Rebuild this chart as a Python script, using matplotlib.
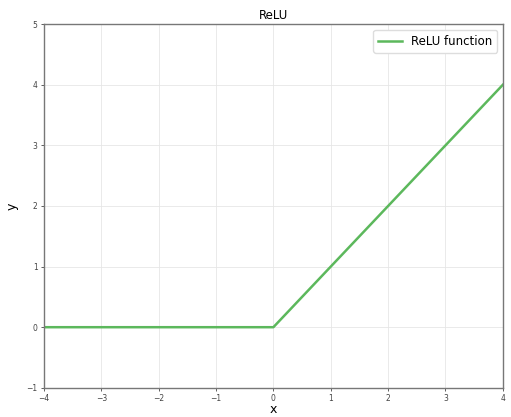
import numpy as np
import matplotlib
matplotlib.use('Agg')
import matplotlib.pyplot as plt

# ReLU breakpoints
x_vals = [-4, 0, 4]
y_vals = [0, 0, 4]

fig = plt.figure(figsize=(5.11, 4.17), dpi=100)
ax = fig.add_axes([0.086, 0.070, 0.898, 0.872])

ax.plot(x_vals, y_vals, color='#5cb85c', linewidth=1.8, label='ReLU function')

ax.set_xlim(-4, 4)
ax.set_ylim(-1, 5)
ax.set_xticks(np.arange(-4, 5, 1))
ax.set_yticks(np.arange(-1, 6, 1))
ax.tick_params(labelsize=5.5, length=2.5, width=0.6, pad=2, colors='#444444')
ax.grid(True, color='#e6e6e6', linewidth=0.6)

for spine in ax.spines.values():
    spine.set_color('#777777')
    spine.set_linewidth(1.0)

ax.set_title('ReLU', fontsize=8.5, pad=4)
ax.set_xlabel('x', fontsize=9, labelpad=0)
ax.set_ylabel('y', fontsize=9, labelpad=6)
ax.legend(loc='upper right', fontsize=8.5, framealpha=1, edgecolor='#dddddd')

fig.savefig('out.png', dpi=100)
